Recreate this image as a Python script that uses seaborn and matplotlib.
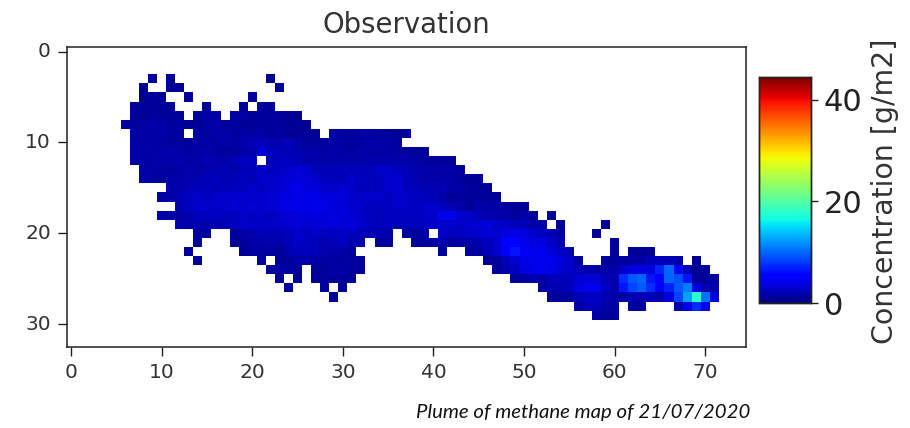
import numpy as np
import matplotlib
matplotlib.use("Agg")
import matplotlib.pyplot as plt
import seaborn as sns

_ = None
title = "Observation"
cbar_label = "Concentration [g/m2]"
caption = "Plume of methane map of 21/07/2020"
x_ticks = [0, 10, 20, 30, 40, 50, 60, 70]
y_ticks = [0, 10, 20, 30]
cbar_ticks = [0, 20, 40]
v_max = 44.4
n_rows, n_cols = 33, 75

row_03 = [_]*9 + [1.0] + [_,1.0,_,_,_,_,_,_,_,_] + [_,_,1.0]
row_04 = [_]*8 + [1.0,_] + [_,1.0,1.0,_,_,_,_,_,_,_] + [_,_,_,1.0]
row_05 = [_]*8 + [1.0,1.1] + [1.1,_,_,1.1,_,_,_,_,_,_] + [1.1]
row_06 = [_]*7 + [1.1,1.1,1.0] + [1.1,1.2,_,_,_,1.1,_,_,_,1.1] + [_,1.1,1.1]
row_07 = [_]*7 + [1.1,1.0,1.1] + [1.2,1.1,1.1,_,1.2,1.5,1.4,_,1.3,1.4] + [1.2,1.2,1.3,1.1,1.0,1.1]
row_08 = [_]*6 + [1.0,1.1,1.4,1.6] + [1.6,1.3,1.3,1.0,0.9,1.5,1.6,1.2,1.3,1.0] + [1.1,1.1,1.3,1.2,1.0,1.0,1.1]
row_09 = [_]*7 + [1.3,1.4,1.4] + [1.6,1.3,1.4,_,1.1,1.1,1.5,1.7,1.2,1.4] + [1.4,1.5,1.2,1.3,0.9,0.9,1.0,0.9,_,1.5] + [1.3,1.1,1.4,1.4,1.2,1.2,1.0,1.0]
row_10 = [_]*7 + [1.5,1.7,1.6] + [1.4,1.2,1.1,1.3,1.7,1.4,1.5,1.6,1.5,1.8] + [2.2,2.4,2.0,2.0,2.3,1.6,1.2,1.1,1.3,1.5] + [1.4,1.3,1.3,1.6,1.7,1.5,1.3]
row_11 = [_]*7 + [1.7,1.4,1.4] + [1.6,1.8,1.6,1.3,1.5,1.8,1.3,1.1,1.2,1.7] + [1.8,3.6,2.5,2.3,2.2,2.0,1.7,1.7,1.4,1.6] + [1.4,1.3,1.6,1.7,1.4,1.5,1.4,1.3,1.1,1.1]
row_12 = [_]*7 + [1.5,1.6,1.5] + [1.6,1.7,1.8,1.7,1.7,2.0,1.8,1.6,2.2,2.5] + [2.6,_,2.5,2.6,2.5,2.3,1.9,1.7,1.6,1.7] + [1.7,1.7,1.6,1.7,1.8,1.9,1.7,1.7,1.4,1.2] + [1.1,1.0,1.0]
row_13 = [_]*8 + [1.5,1.4] + [1.4,1.3,1.6,1.8,1.7,1.8,2.0,2.1,1.7,2.3] + [2.2,2.8,2.5,2.7,3.0,3.3,2.9,2.1,2.1,2.3] + [2.3,2.1,2.1,2.3,2.8,3.0,2.6,2.2,1.8,1.6] + [1.6,1.5,1.4,1.3]
row_14 = [_]*8 + [1.6,1.3] + [1.1,1.5,1.6,1.8,1.9,2.1,2.3,2.0,2.2,2.5] + [2.1,2.8,2.9,3.0,3.4,3.6,3.3,3.0,2.6,2.2] + [2.3,2.9,2.6,2.3,2.5,2.8,3.1,2.3,2.0,1.8] + [1.7,1.6,1.6,1.1,1.0,1.0]
row_15 = [_]*11 + [1.8,1.7,2.1,2.3,2.2,2.1,2.3,2.6,2.3] + [2.8,2.5,2.9,3.2,3.8,4.3,3.6,3.5,2.9,2.8] + [3.2,2.8,2.3,2.3,2.6,3.0,3.2,2.6,2.1,2.0] + [2.1,2.0,1.5,1.4,0.9,1.1,1.1]
row_16 = [_]*10 + [1.5,1.5,2.0,2.5,2.8,2.7,2.9,2.8,3.1,3.2] + [2.8,3.0,3.2,3.6,3.9,4.1,4.1,4.0,3.6,3.5] + [3.3,3.0,2.9,2.9,2.8,2.6,2.9,2.9,2.5,2.3] + [2.1,1.7,1.0,1.3,1.1,1.1,1.1,1.1]
row_17 = [_]*12 + [1.8,2.5,2.8,3.0,2.9,2.9,3.2,2.8] + [3.2,3.0,3.2,3.8,4.0,4.2,4.1,4.2,4.0,3.5] + [3.5,3.0,3.0,2.6,2.5,2.6,2.8,2.9,2.6,2.9] + [3.0,2.5,2.0,1.7,0.9,1.6,1.7,1.4,1.3,1.0] + [1.0]
row_18 = [_]*10 + [1.5,1.6,1.3,1.8,2.3,2.5,2.6,2.6,2.4,2.9] + [2.6,2.8,2.6,3.1,3.3,3.5,3.5,3.7,3.8,3.9] + [3.6,3.2,2.8,2.5,2.3,2.5,2.5,2.6,2.6,2.9] + [2.9,4.2,4.3,3.2,2.8,2.2,1.8,1.9,1.5,1.2] + [1.4,1.2,_,1.0]
row_19 = [_]*12 + [2.0,1.7,2.0,1.9,2.0,2.2,2.5,2.9] + [2.8,2.7,2.9,2.8,3.2,3.4,3.2,3.3,3.3,3.6] + [3.2,3.5,3.0,2.6,2.4,2.5,2.4,2.4,2.5,2.6] + [2.8,3.0,3.1,2.9,3.0,3.2,3.6,2.8,2.8,2.3] + [2.1,1.7,1.6,_,1.1,_,_,_,_,1.0]
row_20 = [_]*14 + [1.3,1.2,_,_,1.1,1.4] + [2.0,2.2,2.1,2.0,2.3,3.0,2.6,2.8,2.5,2.6] + [2.9,2.6,2.2,2.0,2.0,1.7,_,1.3,1.2,1.5] + [_,2.8,2.6,2.5,2.8,3.0,3.3,3.2,3.8,4.2] + [3.7,3.0,2.6,2.0,1.4,_,_,_,1.0,_]
row_21 = [_]*14 + [1.2,_,_,_,1.0,1.2] + [1.5,1.7,1.8,1.6,2.3,2.8,2.5,2.2,2.0,2.2] + [2.5,1.8,2.0,_,1.1,1.3,_,_,1.1,1.2] + [1.4,1.6,1.3,1.4,1.5,2.0,2.3,3.0,5.0,5.6] + [4.2,3.8,3.6,2.9,2.0,_,_,_,_,_] + [1.0]
row_22 = [_]*13 + [1.2,_,_,_,_,_,1.0] + [1.3,1.4,1.3,1.2,2.0,2.3,2.1,2.3,1.9,1.4] + [1.7,1.3,_,_,_,_,_,_,_,_] + [_,1.2,_,_,1.1,1.3,2.2,3.0,4.8,6.5] + [4.8,4.3,4.2,3.8,2.8,2.2,_,_,_,_] + [1.0,_,1.0,1.0,1.0]
row_23 = [_]*14 + [1.2,_,_,_,_,_] + [_,1.1,_,1.1,1.2,1.7,1.9,1.4,1.3,1.5] + [1.3,1.4,1.1,_,_,_,_,_,_,_] + [_,_,_,_,_,_,0.9,1.1,2.3,3.4] + [4.0,4.2,4.2,4.4,3.5,2.9,1.7,_,_,1.1] + [1.3,1.3,1.5,1.5,2.1,2.4,2.4,1.6,_,1.0]
row_24 = [_]*22 + [1.3,1.5,1.4,1.3,_,1.1,1.1,1.5] + [1.4,1.3,1.1,_,_,_,_,_,_,_] + [_,_,_,_,_,_,_,1.0,1.6,2.6] + [3.8,4.2,4.4,4.0,3.2,3.0,2.1,1.8,1.5,1.5] + [1.7,3.0,3.8,3.9,3.6,7.0,10.0,5.5,2.0,1.0] + [1.0]
row_25 = [_]*23 + [1.3,_,1.1,_,1.1,1.1,1.0] + [1.3,1.1,_,_,_,_,_,_,_,_] + [_,_,_,_,_,_,_,_,_,1.1] + [1.5,1.8,1.6,2.3,2.4,2.5,3.2,3.3,3.2,2.1] + [2.0,7.5,9.5,10.0,6.5,4.8,10.0,9.0,6.5,1.0] + [1.2,1.4]
row_26 = [_]*24 + [1.3,_,_,_,1.1,_] + [1.1,_,_,_,_,_,_,_,_,_] + [_,_,_,_,_,_,_,_,_,_] + [_,_,1.5,2.0,2.0,2.4,3.8,4.2,4.2,2.7] + [1.8,6.5,8.5,9.5,7.5,5.0,7.0,9.5,11.0,3.9] + [1.8,2.0]
row_27 = [_]*29 + [1.0] + [_,_,_,_,_,_,_,_,_,_] + [_,_,_,_,_,_,_,_,_,_] + [_,_,_,1.1,1.3,1.3,2.1,2.7,2.7,2.0] + [1.6,1.4,2.2,2.0,2.2,1.7,3.5,8.5,12.5,17.8] + [10.5,3.5]
row_28 = [_]*56 + [1.3,2.1,2.4,1.6] + [1.4,_,1.2,1.2,_,_,_,1.5,4.0,7.5] + [4.6]
row_29 = [_]*58 + [1.6,1.2] + [1.2]

rows = {3: row_03, 4: row_04, 5: row_05, 6: row_06, 7: row_07, 8: row_08, 9: row_09,
        10: row_10, 11: row_11, 12: row_12, 13: row_13, 14: row_14, 15: row_15,
        16: row_16, 17: row_17, 18: row_18, 19: row_19, 20: row_20, 21: row_21,
        22: row_22, 23: row_23, 24: row_24, 25: row_25, 26: row_26, 27: row_27,
        28: row_28, 29: row_29}

grid = np.full((n_rows, n_cols), np.nan)
for r, vals in rows.items():
    for c, v in enumerate(vals):
        if v is not None:
            grid[r, c] = v

W, H = 910, 428
sns.set_style("white")
plt.rcParams["font.family"] = ["DejaVu Sans"]
fig = plt.figure(figsize=(W / 100, H / 100), dpi=100)
ax = fig.add_axes([66.5 / W, 1 - 347 / H, (746 - 66.5) / W, (347 - 47) / H])
cax = fig.add_axes([759.3 / W, 1 - 303.3 / H, (811 - 759.3) / W, (303.3 - 77.3) / H])

sns.heatmap(grid, ax=ax, cbar_ax=cax, cmap="jet", vmin=0, vmax=v_max,
            mask=np.isnan(grid), cbar_kws={"ticks": cbar_ticks})

ax.set_xticks([t + 0.5 for t in x_ticks], labels=[str(t) for t in x_ticks], rotation=0)
ax.set_yticks([t + 0.5 for t in y_ticks], labels=[str(t) for t in y_ticks], rotation=0)
ax.tick_params(left=True, bottom=True, length=6.2, width=1, labelsize=14.5, color="#222222",
               labelcolor="#333333", pad=5)
for s in ax.spines.values():
    s.set_visible(True)
    s.set_linewidth(1.1)
    s.set_color("#222222")
ax.set_title(title, fontsize=19.8, color="#333333", pad=10)

cax.tick_params(right=True, length=5.3, width=1, labelsize=22, color="#222222",
                labelcolor="#222222", pad=4)
for s in cax.spines.values():
    s.set_visible(True)
    s.set_linewidth(1.0)
    s.set_color("#222222")
fig.text(885 / W, 1 - 191.5 / H, cbar_label, rotation=90, fontsize=20.4,
         color="#333333", ha="center", va="center")
fig.text(416 / W, 1 - 418 / H, caption, fontsize=14.7, style="italic",
         family="Lato", color="#111111", ha="left", va="baseline")

fig.savefig("out.png", dpi=100, facecolor="white")
